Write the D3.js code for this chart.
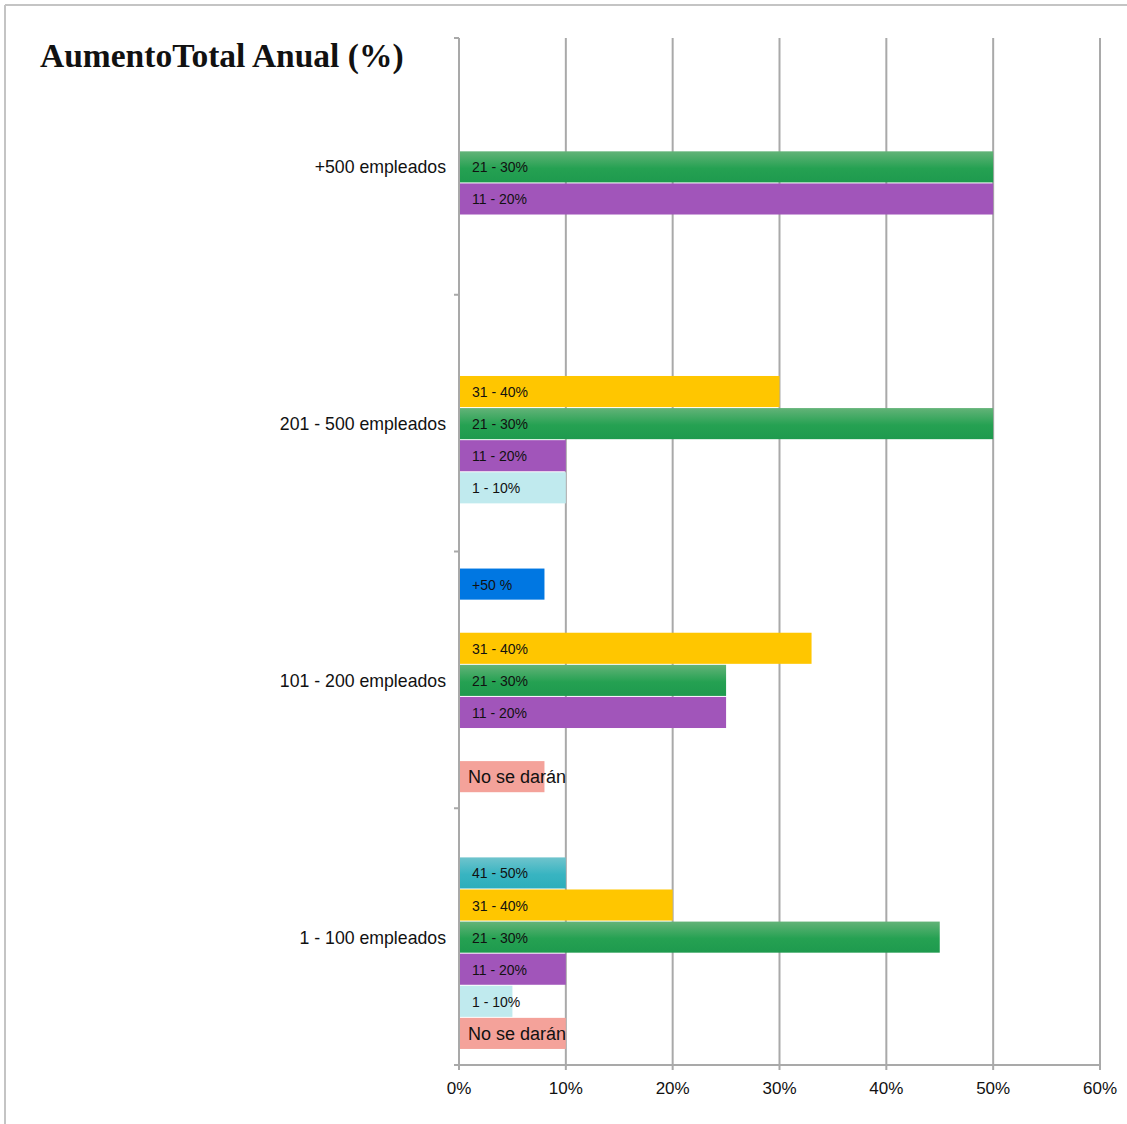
<!DOCTYPE html>
<html><head><meta charset="utf-8">
<script src="https://cdn.jsdelivr.net/npm/d3@7/dist/d3.min.js"></script>
<style>body{margin:0;background:#fff}svg{display:block}</style>
</head><body>
<svg id="c" width="1127" height="1124"></svg>
<script>
const categories = ["+500 empleados","201 - 500 empleados","101 - 200 empleados","1 - 100 empleados"];
const series = ["+50 %","41 - 50%","31 - 40%","21 - 30%","11 - 20%","1 - 10%","No se darán"];
// values per series, aligned with categories
const vMas50   = [0, 0, 8, 0];
const v41_50   = [0, 0, 0, 10];
const v31_40   = [0, 30, 33, 20];
const v21_30   = [50, 50, 25, 45];
const v11_20   = [50, 10, 25, 10];
const v1_10    = [0, 10, 0, 5];
const vNo      = [0, 0, 8, 10];
const xTicks = [0,10,20,30,40,50,60];
const colors = ["#0077E2","url(#gTeal)","#FFC600","url(#gGreen)","#A155BA","#C0EAEE","#F4A29A"];

const values = [vMas50, v41_50, v31_40, v21_30, v11_20, v1_10, vNo];
const svg = d3.select("#c");
const defs = svg.append("defs");
function grad(id, stops){
  const g = defs.append("linearGradient").attr("id",id).attr("x1",0).attr("y1",0).attr("x2",0).attr("y2",1);
  stops.forEach(s=>g.append("stop").attr("offset",s[0]).attr("stop-color",s[1]));
}
grad("gGreen",[[0,"#63B378"],[0.55,"#25A152"],[1,"#1E9A4E"]]);
grad("gTeal",[[0,"#6FC4CD"],[0.55,"#38B4C1"],[1,"#2DAEBB"]]);

// frame
svg.append("line").attr("x1",5).attr("x2",1127).attr("y1",5).attr("y2",5).attr("stroke","#c4c4c4").attr("stroke-width",2);
svg.append("line").attr("x1",5).attr("x2",5).attr("y1",5).attr("y2",1124).attr("stroke","#c4c4c4").attr("stroke-width",2);

svg.append("text").attr("x",40).attr("y",67).text("AumentoTotal Anual (%)")
  .attr("font-family","Liberation Serif, Times New Roman, serif").attr("font-weight","bold").attr("font-size",33.5).attr("fill","#111");

const x = d3.scaleLinear().domain([0,60]).range([459,1100]);
const y = d3.scaleBand().domain(categories).range([38,1065]).paddingInner(0.125).paddingOuter(0.0625);
const yBound = d3.scaleBand().domain(categories).range([38,1065]);
const ys = d3.scaleBand().domain(series).range([0,y.bandwidth()]);

// gridlines
svg.append("g").selectAll("line").data(xTicks.slice(1)).join("line")
  .attr("x1",d=>x(d)).attr("x2",d=>x(d)).attr("y1",38).attr("y2",1070)
  .attr("stroke","#a9a9a9").attr("stroke-width",2);

// bars
const data = [];
categories.forEach((c,ci)=>series.forEach((s,si)=>data.push({c,s,si,v:values[si][ci]})));
const g = svg.append("g");
g.selectAll("rect").data(data.filter(d=>d.v>0)).join("rect")
  .attr("x",x(0)).attr("y",d=>y(d.c)+ys(d.s)+1)
  .attr("width",d=>x(d.v)-x(0)).attr("height",ys.bandwidth()-1)
  .attr("fill",d=>colors[d.si]);
g.selectAll("text").data(data.filter(d=>d.v>0)).join("text")
  .attr("x",d=>d.si===6? x(0)+9 : x(0)+13)
  .attr("y",d=>y(d.c)+ys(d.s)+ys.bandwidth()/2+ (d.si===6?7:6))
  .attr("font-family","Liberation Sans, Arial, sans-serif")
  .attr("font-size",d=>d.si===6?18:14).attr("fill","#111")
  .text(d=>d.s);

// left axis
svg.append("line").attr("x1",459).attr("x2",459).attr("y1",38).attr("y2",1070).attr("stroke","#a9a9a9").attr("stroke-width",2);
const bounds = categories.map(c=>yBound(c)).concat([1065]);
svg.append("g").selectAll("line").data(bounds).join("line")
  .attr("x1",454).attr("x2",459).attr("y1",d=>d).attr("y2",d=>d).attr("stroke","#a9a9a9").attr("stroke-width",2);
// bottom axis
svg.append("line").attr("x1",454).attr("x2",1101).attr("y1",1065).attr("y2",1065).attr("stroke","#a9a9a9").attr("stroke-width",2);

svg.append("g").selectAll("text").data(xTicks).join("text")
  .attr("x",d=>x(d)).attr("y",1094).attr("text-anchor","middle")
  .attr("font-family","Liberation Sans, Arial, sans-serif").attr("font-size",17).attr("fill","#111")
  .text(d=>d+"%");

svg.append("g").selectAll("text").data(categories).join("text")
  .attr("x",446).attr("y",c=>y(c)+y.bandwidth()/2+7).attr("text-anchor","end")
  .attr("font-family","Liberation Sans, Arial, sans-serif").attr("font-size",17.7).attr("fill","#111")
  .text(c=>c);
</script>
</body></html>
